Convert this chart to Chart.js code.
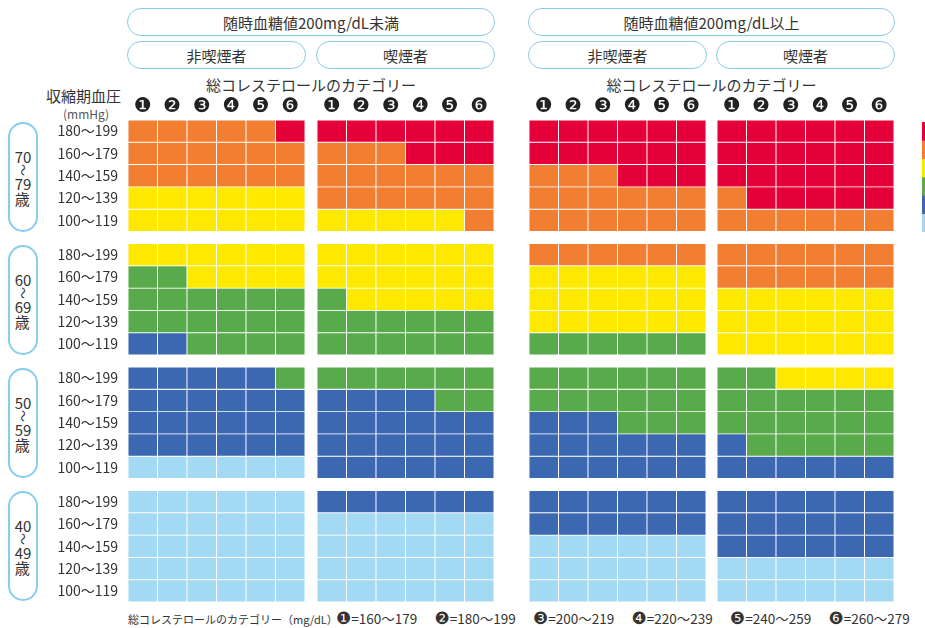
<!DOCTYPE html>
<html lang="ja">
<head>
<meta charset="utf-8">
<script src="https://cdn.jsdelivr.net/npm/chart.js@4.4.1/dist/chart.umd.min.js"></script>
<style>
  body { margin: 0; width: 925px; height: 628px; overflow: hidden; background: #fff;
         font-family: 'Noto Sans CJK JP', sans-serif; color: #333; position: relative; }
  .box { position: absolute; border: 1.5px solid #86cdee; border-radius: 14px; box-sizing: border-box;
         display: flex; align-items: center; justify-content: center; font-size: 15px; }
  .age { position: absolute; left: 8px; width: 30px; height: 110px; border: 2px solid #86cdee;
         border-radius: 15px; box-sizing: border-box; display: flex; flex-direction: column;
         align-items: center; justify-content: center; font-size: 15px; line-height: 15px; }
  .age .wave { display: block; transform: rotate(90deg); font-size: 12px; line-height: 12px; }
  .txt { position: absolute; white-space: nowrap; }
  .panel { position: absolute; top: 88px; height: 514px; }
</style>
</head>
<body>

<div class="box" style="left:127px;top:8px;width:368px;height:28px;">随時血糖値200mg/dL未満</div>
<div class="box" style="left:528px;top:8px;width:367px;height:28px;">随時血糖値200mg/dL以上</div>
<div class="box" style="left:127px;top:41px;width:179px;height:28px;">非喫煙者</div>
<div class="box" style="left:316px;top:41px;width:179px;height:28px;">喫煙者</div>
<div class="box" style="left:528px;top:41px;width:179px;height:28px;">非喫煙者</div>
<div class="box" style="left:716px;top:41px;width:179px;height:28px;">喫煙者</div>

<div class="txt" style="left:128px;top:74px;width:366px;text-align:center;font-size:15px;">総コレステロールのカテゴリー</div>
<div class="txt" style="left:529px;top:74px;width:365px;text-align:center;font-size:15px;">総コレステロールのカテゴリー</div>
<div class="txt" style="left:46px;top:85px;font-size:15px;">収縮期血圧</div>
<div class="txt" style="left:63px;top:105px;font-size:12px;color:#555;">(mmHg)</div>

<div id="ages"></div>

<canvas id="panelA" class="panel" style="left:38px;" width="267" height="514"></canvas>
<canvas id="panelB" class="panel" style="left:317px;" width="177" height="514"></canvas>
<canvas id="panelC" class="panel" style="left:529px;" width="177" height="514"></canvas>
<canvas id="panelD" class="panel" style="left:717px;" width="177" height="514"></canvas>
<canvas id="legendStrip" style="position:absolute;left:922px;top:122px;" width="8" height="110"></canvas>

<div id="footer"></div>

<script>
// リスク区分の色 (0=水色 ... 5=赤)
const levelColors = ['#a3d9f3', '#3c68b1', '#59aa4a', '#fde800', '#f27e32', '#e5003a'];

const bpLabels = ['180〜199', '160〜179', '140〜159', '120〜139', '100〜119'];
const ageLabels = [['70', '79'], ['60', '69'], ['50', '59'], ['40', '49']];
const cholTicks = ['❶', '❷', '❸', '❹', '❺', '❻'];
const cholRanges = ['160〜179', '180〜199', '200〜219', '220〜239', '240〜259', '260〜279'];

// 行: 70-79歳, 60-69歳, 50-59歳, 40-49歳 (各 180〜199 → 100〜119)
const lowGlucoseNonSmoker = [
    [4, 4, 4, 4, 4, 5], [4, 4, 4, 4, 4, 4], [4, 4, 4, 4, 4, 4], [3, 3, 3, 3, 3, 3], [3, 3, 3, 3, 3, 3],
    [3, 3, 3, 3, 3, 3], [2, 2, 3, 3, 3, 3], [2, 2, 2, 2, 2, 2], [2, 2, 2, 2, 2, 2], [1, 1, 2, 2, 2, 2],
    [1, 1, 1, 1, 1, 2], [1, 1, 1, 1, 1, 1], [1, 1, 1, 1, 1, 1], [1, 1, 1, 1, 1, 1], [0, 0, 0, 0, 0, 0],
    [0, 0, 0, 0, 0, 0], [0, 0, 0, 0, 0, 0], [0, 0, 0, 0, 0, 0], [0, 0, 0, 0, 0, 0], [0, 0, 0, 0, 0, 0]
];
const lowGlucoseSmoker = [
    [5, 5, 5, 5, 5, 5], [4, 4, 4, 5, 5, 5], [4, 4, 4, 4, 4, 4], [4, 4, 4, 4, 4, 4], [3, 3, 3, 3, 3, 4],
    [3, 3, 3, 3, 3, 3], [3, 3, 3, 3, 3, 3], [2, 3, 3, 3, 3, 3], [2, 2, 2, 2, 2, 2], [2, 2, 2, 2, 2, 2],
    [2, 2, 2, 2, 2, 2], [1, 1, 1, 1, 2, 2], [1, 1, 1, 1, 1, 1], [1, 1, 1, 1, 1, 1], [1, 1, 1, 1, 1, 1],
    [1, 1, 1, 1, 1, 1], [0, 0, 0, 0, 0, 0], [0, 0, 0, 0, 0, 0], [0, 0, 0, 0, 0, 0], [0, 0, 0, 0, 0, 0]
];
const highGlucoseNonSmoker = [
    [5, 5, 5, 5, 5, 5], [5, 5, 5, 5, 5, 5], [4, 4, 4, 5, 5, 5], [4, 4, 4, 4, 4, 4], [4, 4, 4, 4, 4, 4],
    [4, 4, 4, 4, 4, 4], [3, 3, 3, 3, 3, 3], [3, 3, 3, 3, 3, 3], [3, 3, 3, 3, 3, 3], [2, 2, 2, 2, 2, 2],
    [2, 2, 2, 2, 2, 2], [2, 2, 2, 2, 2, 2], [1, 1, 1, 2, 2, 2], [1, 1, 1, 1, 1, 1], [1, 1, 1, 1, 1, 1],
    [1, 1, 1, 1, 1, 1], [1, 1, 1, 1, 1, 1], [0, 0, 0, 0, 0, 0], [0, 0, 0, 0, 0, 0], [0, 0, 0, 0, 0, 0]
];
const highGlucoseSmoker = [
    [5, 5, 5, 5, 5, 5], [5, 5, 5, 5, 5, 5], [5, 5, 5, 5, 5, 5], [4, 5, 5, 5, 5, 5], [4, 4, 4, 4, 4, 4],
    [4, 4, 4, 4, 4, 4], [4, 4, 4, 4, 4, 4], [3, 3, 3, 3, 3, 3], [3, 3, 3, 3, 3, 3], [3, 3, 3, 3, 3, 3],
    [2, 2, 3, 3, 3, 3], [2, 2, 2, 2, 2, 2], [2, 2, 2, 2, 2, 2], [1, 2, 2, 2, 2, 2], [1, 1, 1, 1, 1, 1],
    [1, 1, 1, 1, 1, 1], [1, 1, 1, 1, 1, 1], [1, 1, 1, 1, 1, 1], [0, 0, 0, 0, 0, 0], [0, 0, 0, 0, 0, 0]
];

const ageGap = 0.54;   // 年齢区分の間のすき間 (行の高さ比)
const totalRows = 20 + ageGap * 3;

// 年齢ラベル
const agesEl = document.getElementById('ages');
ageLabels.forEach((a, i) => {
    const d = document.createElement('div');
    d.className = 'age';
    d.style.top = (122 + i * 123) + 'px';
    d.innerHTML = a[0] + '<span class="wave">〜</span>' + a[1] + '<br>歳';
    agesEl.appendChild(d);
});

// 凡例 (下)
const footer = document.getElementById('footer');
const ft = document.createElement('div');
ft.className = 'txt';
ft.style.cssText = 'left:128px;top:611px;font-size:11px;';
ft.textContent = '総コレステロールのカテゴリー（mg/dL）';
footer.appendChild(ft);
cholRanges.forEach((r, i) => {
    const d = document.createElement('div');
    d.className = 'txt';
    d.style.cssText = 'top:608px;font-size:13.5px;left:' + (336 + i * 98.5) + 'px;';
    d.innerHTML = '<span style="font-family:DejaVu Sans;font-size:17px">' + cholTicks[i] + '</span>=' + r;
    footer.appendChild(d);
});

function buildDatasets(grid) {
    const sets = [];
    grid.forEach((row, i) => {
        if (i > 0 && i % 5 === 0) {
            sets.push({ data: row.map(() => ageGap), backgroundColor: 'rgba(0,0,0,0)', borderWidth: 0 });
        }
        sets.push({
            data: row.map(() => 1),
            backgroundColor: row.map(l => levelColors[l]),
            borderColor: '#ffffff',
            borderWidth: 0.8,
            borderSkipped: false
        });
    });
    return sets;
}

// 行の中心位置 (y軸の目盛り)
const rowCenters = [];
for (let i = 0; i < 20; i++) {
    rowCenters.push(Math.floor(i / 5) * ageGap + i + 0.5);
}

function makePanel(id, grid, showBp) {
    const ctx = document.getElementById(id);
    new Chart(ctx, {
        type: 'bar',
        data: { labels: cholTicks, datasets: buildDatasets(grid) },
        options: {
            responsive: false,
            animation: false,
            events: [],
            layout: { padding: 0 },
            datasets: { bar: { barPercentage: 1, categoryPercentage: 1, stack: 'cells' } },
            plugins: { legend: { display: false }, tooltip: { enabled: false } },
            scales: {
                x: {
                    position: 'top',
                    stacked: true,
                    border: { display: false },
                    grid: { display: false, drawTicks: false },
                    ticks: { padding: 1, color: '#222', font: { family: 'DejaVu Sans', size: 20 } },
                    afterFit: s => { s.height = 32; s.paddingLeft = 0; s.paddingRight = 0; }
                },
                y: {
                    display: showBp,
                    stacked: true,
                    reverse: true,
                    min: 0,
                    max: totalRows,
                    border: { display: false },
                    grid: { display: false, drawTicks: false },
                    afterBuildTicks: s => { s.ticks = rowCenters.map(v => ({ value: v })); },
                    ticks: {
                        autoSkip: false,
                        padding: 10,
                        color: '#333',
                        font: { family: 'Noto Sans CJK JP', size: 14 },
                        callback: (v, i) => bpLabels[i % 5]
                    },
                    afterFit: s => { s.width = showBp ? 90 : 0; s.paddingTop = 0; s.paddingBottom = 0; }
                }
            }
        }
    });
}

makePanel('panelA', lowGlucoseNonSmoker, true);
makePanel('panelB', lowGlucoseSmoker, false);
makePanel('panelC', highGlucoseNonSmoker, false);
makePanel('panelD', highGlucoseSmoker, false);

// 右端の色見本
new Chart(document.getElementById('legendStrip'), {
    type: 'bar',
    data: {
        labels: [''],
        datasets: levelColors.slice().reverse().map(c => ({ data: [1], backgroundColor: c }))
    },
    options: {
        responsive: false,
        animation: false,
        events: [],
        datasets: { bar: { barPercentage: 1, categoryPercentage: 1 } },
        plugins: { legend: { display: false }, tooltip: { enabled: false } },
        scales: {
            x: { display: false, stacked: true },
            y: { display: false, stacked: true, reverse: true, min: 0, max: 6 }
        }
    }
});
</script>
</body>
</html>
